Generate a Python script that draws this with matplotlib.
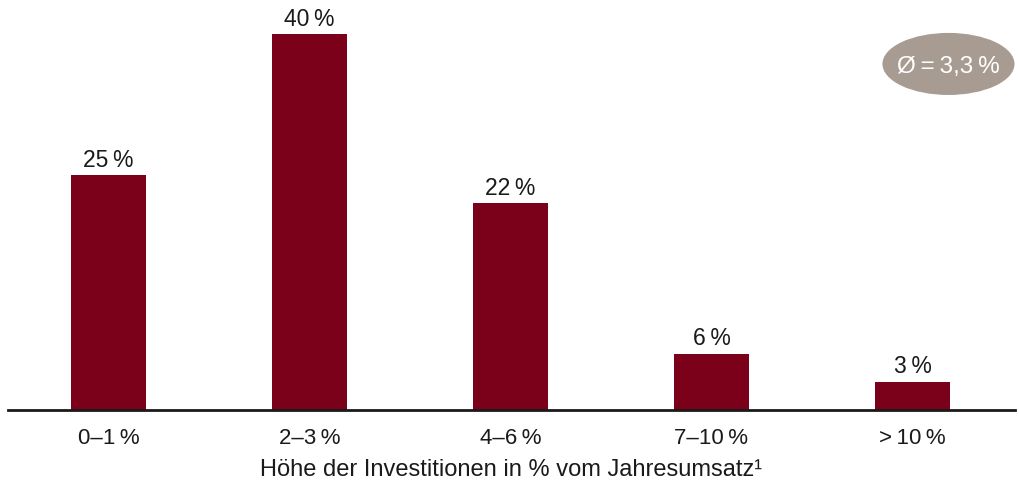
import matplotlib
matplotlib.use("Agg")
import matplotlib.pyplot as plt
from matplotlib.patches import Ellipse

T = "\u2009"
categories = ["0–1" + T + "%", "2–3" + T + "%", "4–6" + T + "%", "7–10" + T + "%", ">" + T + "10" + T + "%"]
values = [25, 40, 22, 6, 3]
value_labels = ["25" + T + "%", "40" + T + "%", "22" + T + "%", "6" + T + "%", "3" + T + "%"]
xlabel = "Höhe der Investitionen in % vom Jahresumsatz¹"
avg_label = "Ø" + T + "=" + T + "3,3" + T + "%"

plt.rcParams['font.family'] = ['Liberation Sans', 'DejaVu Sans']

W, H = 1019, 483
fig = plt.figure(figsize=(W / 100, H / 100), dpi=100)
ax = fig.add_axes([8 / W, (H - 410) / H, 1007 / W, 410 / H])

bar_color = "#7b0019"
text_color = "#1a1a1a"
x = list(range(len(categories)))
ax.bar(x, values, width=0.37, color=bar_color)
for xi, v, lab in zip(x, values, value_labels):
    ax.text(xi, v + 0.35, lab, ha="center", va="bottom", fontsize=16.5, color=text_color)

ax.set_xlim(-0.5, 4.51)
ax.set_ylim(0, 43.6)
ax.set_xticks(x)
ax.set_xticklabels(categories, fontsize=16, color=text_color)
ax.tick_params(axis="x", length=0, pad=13)
ax.set_yticks([])
for s in ["top", "right", "left"]:
    ax.spines[s].set_visible(False)
ax.spines["bottom"].set_linewidth(2)
ax.spines["bottom"].set_color(text_color)
ax.set_xlabel(xlabel, fontsize=17, color=text_color, labelpad=7)

ell = Ellipse((4.179, 36.8), 0.657, 6.6, facecolor="#a89b92", edgecolor="none")
ax.add_patch(ell)
ax.text(4.179, 36.5, avg_label, ha="center", va="center", fontsize=17.5, color="white")

fig.savefig("out.png", dpi=100)
